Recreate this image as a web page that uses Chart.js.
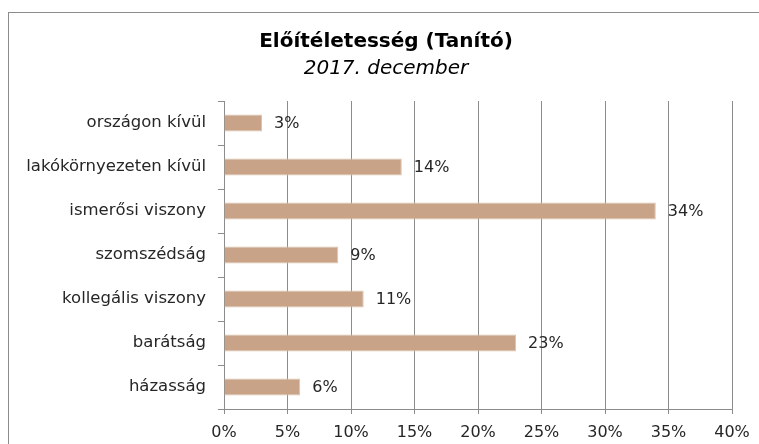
<!DOCTYPE html>
<html>
<head>
<meta charset="utf-8">
<script src="https://cdn.jsdelivr.net/npm/chart.js@4"></script>
<style>
  body { margin: 0; background: #fff; }
  #wrap { position: relative; width: 759px; height: 444px; overflow: hidden; }
  #frame { position: absolute; left: 8px; top: 12px; width: 800px; height: 500px; border: 1px solid #8c8c8c; }
  #chart { position: absolute; left: 0; top: 0; }
</style>
</head>
<body>
<div id="wrap">
  <div id="frame"></div>
  <canvas id="chart" width="759" height="444"></canvas>
</div>
<script>
const categories = [
  "országon kívül", "lakókörnyezeten kívül", "ismerősi viszony",
  "szomszédság", "kollegális viszony", "barátság", "házasság"
];
const values = [3, 14, 34, 9, 11, 23, 6];
const xTicks = [0, 5, 10, 15, 20, 25, 30, 35, 40];

// labels to the right of each bar
const valueLabels = {
  id: 'valueLabels',
  afterDatasetsDraw(chart) {
    const ctx = chart.ctx;
    const meta = chart.getDatasetMeta(0);
    ctx.save();
    ctx.font = '16px "DejaVu Sans"';
    ctx.fillStyle = '#262626';
    ctx.textAlign = 'left';
    ctx.textBaseline = 'middle';
    meta.data.forEach((bar, i) => {
      ctx.fillText(values[i] + '%', bar.x + 12, bar.y + 1);
    });
    ctx.restore();
  }
};

// move the title block a bit right, like the original
const shiftTitle = {
  id: 'shiftTitle',
  afterLayout(chart) {
    chart.boxes.forEach(b => {
      if (b.options && b.options.text !== undefined && b.position === 'top') {
        b.left = 40;
        b.right = 732;
        b.width = 692;
      }
    });
  }
};

const ctx = document.getElementById('chart').getContext('2d');

function barFill(context) {
  const chart = context.chart;
  const bar = context.element;
  if (!bar || bar.y === undefined) return '#c8a387';
  const g = chart.ctx.createLinearGradient(0, bar.y - 9, 0, bar.y + 9);
  g.addColorStop(0, '#d2b196');
  g.addColorStop(0.5, '#c29d80');
  g.addColorStop(1, '#c9a78c');
  return g;
}

new Chart(ctx, {
  type: 'bar',
  data: {
    labels: categories,
    datasets: [{
      data: values,
      backgroundColor: barFill,
      borderColor: '#dcc3ad',
      borderWidth: 1,
      barPercentage: 0.39,
      categoryPercentage: 1
    }]
  },
  options: {
    indexAxis: 'y',
    responsive: false,
    animation: false,
    layout: { padding: { top: 30, right: 27, left: 0, bottom: 0 } },
    plugins: {
      legend: { display: false },
      tooltip: { enabled: false },
      title: {
        display: true,
        text: 'Előítéletesség (Tanító)',
        color: '#000',
        font: { family: 'DejaVu Sans', size: 20, weight: 'bold' },
        padding: { top: 0, bottom: 3 }
      },
      subtitle: {
        display: true,
        text: '2017. december',
        color: '#000',
        font: { family: 'DejaVu Sans', size: 20, style: 'italic' },
        padding: { top: 0, bottom: 20 }
      }
    },
    scales: {
      x: {
        min: 0,
        max: 40,
        afterBuildTicks: s => { s.ticks = xTicks.map(v => ({ value: v })); },
        afterFit: s => { s.height = 35; },
        ticks: {
          callback: v => v + '%',
          color: '#262626',
          font: { family: 'DejaVu Sans', size: 16 },
          padding: 9,
          maxRotation: 0
        },
        grid: { color: '#8c8c8c', tickLength: 5, lineWidth: 1 },
        border: { color: '#8c8c8c' }
      },
      y: {
        afterFit: s => { s.width = 224; },
        ticks: {
          color: '#262626',
          font: { family: 'DejaVu Sans', size: 16.5 },
          padding: 12
        },
        grid: { drawOnChartArea: false, color: '#8c8c8c', tickLength: 6, offset: true },
        border: { color: '#8c8c8c' }
      }
    }
  },
  plugins: [valueLabels, shiftTitle]
});
</script>
</body>
</html>
